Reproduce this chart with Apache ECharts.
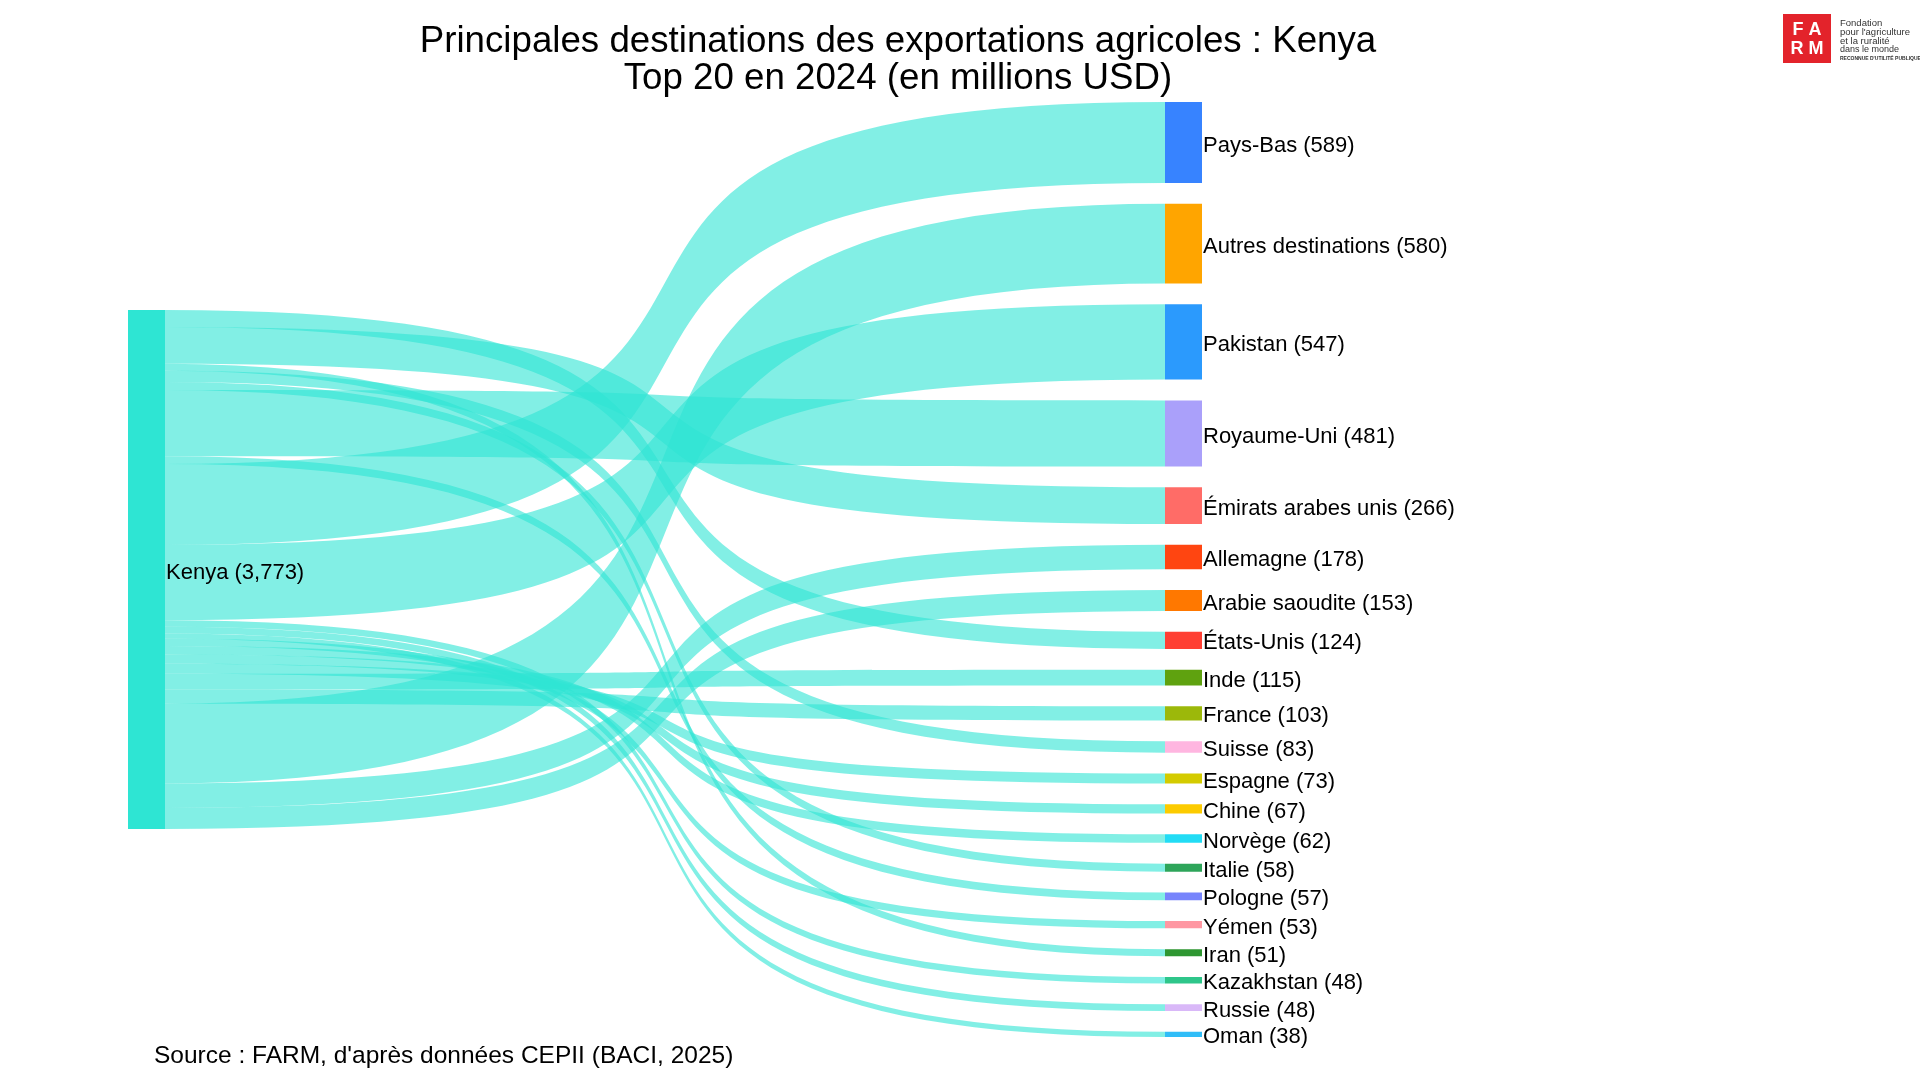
<!DOCTYPE html>
<html>
<head>
<meta charset="utf-8">
<title>Principales destinations des exportations agricoles : Kenya</title>
<script src="https://cdn.jsdelivr.net/npm/echarts@6/dist/echarts.min.js"></script>
<style>
  html, body { margin: 0; padding: 0; background: #fff; }
  #chart { width: 1920px; height: 1080px; }
</style>
</head>
<body>
<div id="chart"></div>
<script>
// --- données ---
var sourceName = 'Kenya'
var sourceTotal = 3773
var destinations = ['Pays-Bas', 'Autres destinations', 'Pakistan', 'Royaume-Uni', 'Émirats arabes unis',
  'Allemagne', 'Arabie saoudite', 'États-Unis', 'Inde', 'France', 'Suisse', 'Espagne', 'Chine',
  'Norvège', 'Italie', 'Pologne', 'Yémen', 'Iran', 'Kazakhstan', 'Russie', 'Oman']
var exportValues = [589, 580, 547, 481, 266, 178, 153, 124, 115, 103, 83, 73, 67, 62, 58, 57, 53, 51, 48, 48, 38]
// ordre de départ des flux sur le nœud Kenya (haut -> bas)
var linkOrder = ['États-Unis', 'Émirats arabes unis', 'Iran', 'Suisse', 'Italie', 'Royaume-Uni', 'Pologne',
  'Pays-Bas', 'Pakistan', 'Kazakhstan', 'Russie', 'Oman', 'Yémen', 'Norvège', 'Chine', 'Espagne',
  'Inde', 'France', 'Autres destinations', 'Allemagne', 'Arabie saoudite']

// couleurs des nœuds (même ordre que destinations)
var nodeColors = ['#3783ff', '#ffa500', '#2b9afd', '#aaa0fa', '#ff6c67', '#ff4511', '#ff7800', '#ff3f33',
  '#5fa20f', '#9cb80a', '#ffb6e0', '#d4cb00', '#fccb00', '#22dcf5', '#2ea55a', '#7784fc', '#ff97a2',
  '#2e9631', '#2ec68a', '#d9b8f8', '#30bdf8']
var kenyaColor = '#2ee5d3'

// --- mise en page ---
var chartTop = 102
var chartBottom = 43
var chartLeft = 128
var chartRight = 718
var nodeGap = 20.8
var nodeWidth = 37
var plotHeight = 1080 - chartTop - chartBottom

var flowSum = exportValues.reduce(function (a, b) { return a + b }, 0)
// même échelle que le layout sankey d'echarts
var ky = (plotHeight - (destinations.length - 1) * nodeGap) / Math.max(flowSum, sourceTotal)

// position verticale des destinations, classées par valeur
var localYs = {}
var acc = 0
destinations.forEach(function (name, i) {
  localYs[name] = acc / plotHeight
  acc += exportValues[i] * ky + nodeGap
})
var kenyaLocalY = (plotHeight - Math.max(flowSum, sourceTotal) * ky) / 2 / plotHeight

var nodes = [{
  name: sourceName,
  value: sourceTotal,
  localY: kenyaLocalY,
  itemStyle: { color: kenyaColor }
}]
var links = []
linkOrder.forEach(function (name) {
  var i = destinations.indexOf(name)
  nodes.push({
    name: name,
    value: exportValues[i],
    localY: localYs[name],
    itemStyle: { color: nodeColors[i] }
  })
  links.push({ source: sourceName, target: name, value: exportValues[i] })
})

var fontFamily = '"Liberation Sans", Arial, sans-serif'

var option = {
  backgroundColor: '#fff',
  animation: false,
  title: {
    text: 'Principales destinations des exportations agricoles : Kenya\nTop 20 en 2024 (en millions USD)',
    left: 893,
    top: 18,
    textAlign: 'center',
    textStyle: {
      fontFamily: fontFamily,
      fontSize: 36.7,
      fontWeight: 'normal',
      lineHeight: 37,
      color: '#000'
    }
  },
  series: [{
    type: 'sankey',
    left: chartLeft,
    right: chartRight,
    top: chartTop,
    bottom: chartBottom,
    nodeWidth: nodeWidth,
    nodeGap: nodeGap,
    layoutIterations: 0,
    draggable: false,
    emphasis: { disabled: true },
    data: nodes,
    links: links,
    itemStyle: { borderWidth: 0 },
    lineStyle: {
      color: kenyaColor,
      opacity: 0.6,
      curveness: 0.8
    },
    label: {
      show: true,
      position: 'right',
      distance: 1,
      offset: [0, 3],
      fontFamily: fontFamily,
      fontSize: 22,
      color: '#000',
      formatter: function (p) {
        return p.name + ' (' + Number(p.value).toLocaleString('en-US') + ')'
      }
    }
  }],
  graphic: [
    {
      type: 'text',
      left: 154,
      top: 1044,
      style: {
        text: "Source : FARM, d'après données CEPII (BACI, 2025)",
        fontFamily: fontFamily,
        fontSize: 24.5,
        fill: '#000'
      }
    },
    // logo FARM
    {
      type: 'group',
      left: 1783,
      top: 14,
      children: [
        { type: 'rect', shape: { x: 0, y: 0, width: 48, height: 49 }, style: { fill: '#e3232b' } },
        { type: 'text', x: 24, y: 7, style: { text: 'F A', fontFamily: fontFamily, fontSize: 18, fontWeight: 'bold', fill: '#fff', align: 'center' } },
        { type: 'text', x: 24, y: 26, style: { text: 'R M', fontFamily: fontFamily, fontSize: 18, fontWeight: 'bold', fill: '#fff', align: 'center' } },
        { type: 'text', x: 57, y: 4, style: { text: 'Fondation', fontFamily: fontFamily, fontSize: 9.5, fill: '#333' } },
        { type: 'text', x: 57, y: 13, style: { text: "pour l'agriculture", fontFamily: fontFamily, fontSize: 9.5, fill: '#333' } },
        { type: 'text', x: 57, y: 22, style: { text: 'et la ruralité', fontFamily: fontFamily, fontSize: 9.5, fill: '#333' } },
        { type: 'text', x: 57, y: 31, style: { text: 'dans le monde', fontFamily: fontFamily, fontSize: 9, fill: '#333' } },
        { type: 'text', x: 57, y: 42, style: { text: "RECONNUE D'UTILITÉ PUBLIQUE", fontFamily: fontFamily, fontSize: 5, fontWeight: 'bold', fill: '#333' } }
      ]
    }
  ]
}

var myChart = echarts.init(document.getElementById('chart'))
myChart.setOption(option)
</script>
</body>
</html>
